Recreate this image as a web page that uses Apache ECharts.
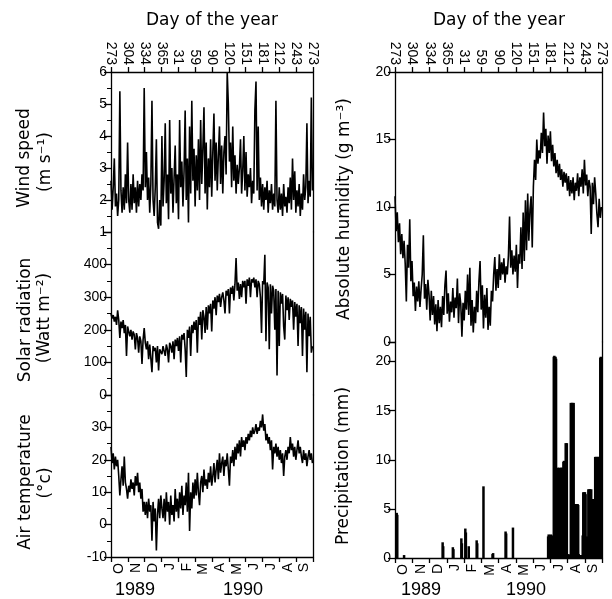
<!DOCTYPE html>
<html>
<head>
<meta charset="utf-8">
<script src="https://cdn.jsdelivr.net/npm/echarts@6/dist/echarts.min.js"></script>
<style>html,body{margin:0;padding:0;background:#fff;}#chart{width:612px;height:599px;}</style>
</head>
<body>
<div id="chart"></div>
<script>
// ---- data (sampled every 2 days starting 1 Oct 1989 = day 0) ----
const SAMPLE_STEP = 2;
const dayTickLabels = ['273','304','334','365','31','59','90','120','151','181','212','243','273'];
const monthLabels = ['O','N','D','J','F','M','A','M','J','J','A','S'];

const windSpeed = [
 2.6,1.7,2.4,3.3,1.8,2.2,1.5,2.0,5.4,2.3,1.6,2.4,1.7,2.8,1.9,3.8,
 2.0,1.6,2.5,1.7,2.8,1.9,2.4,1.6,2.6,1.8,2.5,2.0,2.8,2.3,5.5,
 2.4,3.5,2.0,2.7,1.6,2.5,5.1,2.0,1.5,2.4,3.9,1.3,1.1,2.0,1.2,
 4.0,1.8,2.6,4.4,1.9,2.8,1.4,4.5,2.2,3.0,1.6,2.7,3.7,1.9,2.8,
 1.4,4.5,2.4,3.2,1.8,2.9,4.8,2.0,3.3,1.3,4.3,2.2,5.1,2.6,3.6,
 1.8,3.4,2.3,3.9,2.0,4.5,2.5,3.6,4.9,2.2,3.8,1.7,3.3,2.4,3.9,
 2.1,3.5,4.7,2.6,3.8,2.3,3.4,4.3,2.5,3.7,2.2,3.5,4.0,2.8,6.0,
 5.0,3.2,3.8,2.4,4.3,2.6,3.4,2.2,3.1,2.5,3.0,3.9,2.2,2.9,4.0,
 2.3,3.5,2.1,2.8,2.4,3.0,1.9,2.6,2.2,4.8,5.7,2.3,4.3,2.0,2.7,
 1.8,2.5,1.7,2.4,2.0,2.6,1.6,2.3,1.9,2.5,1.7,2.2,1.8,5.1,2.0,
 1.6,2.4,1.7,2.2,1.5,2.5,1.8,2.1,1.6,2.4,1.9,2.7,1.7,3.3,2.0,
 2.9,1.6,2.3,1.8,2.5,1.5,2.2,1.7,2.8,2.0,2.4,4.4,1.9,2.6,2.1,5.2,2.3
];

const solarRadiation = [
 250,235,245,225,240,215,260,230,175,225,205,230,190,215,120,210,
 205,180,200,170,195,185,140,190,175,130,180,165,95,170,205,
 160,140,165,110,155,150,70,150,135,145,100,150,75,140,145,
 125,150,145,120,155,140,100,160,150,130,165,110,170,150,175,
 135,180,100,185,170,190,140,55,200,175,210,120,215,190,225,
 200,230,130,240,215,255,170,260,240,190,270,200,275,250,280,
 195,290,265,300,245,305,285,310,270,300,315,290,250,320,305,
 325,250,330,310,335,290,340,420,320,345,295,340,300,350,330,
 350,280,355,335,360,300,355,345,360,330,355,300,350,340,300,
 190,350,340,430,165,345,330,140,340,250,335,320,200,325,60,
 320,150,315,280,310,210,170,305,260,300,230,295,270,290,200,
 285,240,280,150,275,220,270,120,265,200,255,70,250,180,240,130,150
];

const airTemperature = [
 24,19,22,17,21,18,20,15,9,14,18,12,21,13,11,8,
 12,10,14,11,13,9,15,12,16,10,13,8,11,4,7,
 3,7,2,8,4,6,-5,7,1,5,-8,3,8,2,9,
 5,2,8,1,10,4,7,0,9,3,6,1,11,4,8,
 2,10,5,12,3,9,6,13,4,16,-2,10,5,13,8,
 14,9,16,10,6,13,15,10,17,12,14,11,16,13,18,
 12,15,19,13,17,20,14,22,16,19,21,15,20,18,22,
 17,12,21,19,23,18,24,20,25,22,26,21,27,24,26,
 23,27,25,28,26,29,27,30,28,29,31,28,30,29,32,
 30,34,29,31,26,28,25,27,23,26,17,24,22,25,21,
 24,20,23,19,22,15,21,23,20,24,22,27,23,25,21,
 24,20,23,26,22,24,21,19,23,20,22,18,21,23,20,22,19
];

const absoluteHumidity = [
 10.8,8.2,9.6,7.4,8.8,6.5,8.0,6.2,7.5,5.8,3.0,7.2,5.5,9.1,4.5,6.0,
 3.4,4.4,2.3,4.1,3.0,4.5,2.6,3.9,5.0,7.9,3.2,4.3,2.4,4.6,3.5,
 1.6,3.8,2.0,3.4,1.3,2.8,0.8,3.1,1.4,2.6,1.1,3.4,2.0,4.2,5.3,
 2.1,3.6,1.5,3.0,2.2,4.0,1.8,3.3,2.5,4.7,1.4,3.6,2.8,0.4,2.9,
 1.6,3.8,2.4,5.0,2.0,5.5,1.2,3.1,0.7,2.6,1.4,3.8,2.2,4.5,6.0,
 2.4,4.2,1.0,3.5,1.8,4.0,0.9,2.6,1.2,3.8,3.0,5.0,6.3,3.8,5.4,
 4.0,6.5,4.6,5.9,5.0,6.2,4.4,5.6,5.0,6.4,9.3,5.5,6.8,5.0,6.4,
 5.2,7.2,4.0,6.5,5.8,8.5,5.4,9.6,6.0,10.5,6.8,11.0,7.5,9.8,10.8,
 7.0,11.5,13.5,12.0,15.0,13.2,14.2,13.6,15.5,14.0,17.0,14.5,15.8,13.2,15.3,
 14.0,15.6,13.4,14.6,13.0,14.0,12.5,13.5,12.2,13.2,12.0,12.8,11.5,12.6,11.8,
 12.5,11.2,12.3,10.8,12.0,11.0,12.2,10.5,11.8,11.2,12.5,10.8,12.2,11.5,12.8,
 11.0,13.5,11.6,12.4,10.8,12.0,11.5,8.0,11.8,10.2,12.2,11.0,9.5,8.5,10.6,9.2,10.0
];

// precipitation events: [day since 1 Oct 1989, mm]
const precipitation = [
 [3,4.6],[4,4.4],[16,0.3],[84,1.6],[85,1.2],[102,1.1],[103,0.9],[117,2.0],[118,1.5],
 [124,3.0],[125,2.6],[130,1.2],[144,1.8],[145,1.5],[156,7.3],[172,0.4],[173,0.5],
 [195,2.7],[196,2.5],[208,3.1],
 [270,2.2],[271,2.4],[272,2.3],[273,0.2],[274,2.1],[275,2.4],[276,2.2],[277,0.3],[278,2.3],[279,2.2],
 [280,20.5],[281,20.6],[282,20.4],[283,20.5],[284,20.3],
 [285,9.1],[286,9.0],[287,9.2],[288,9.1],[289,9.0],[290,9.2],[291,9.1],[292,9.0],[293,9.2],[294,9.1],[295,9.2],[296,9.1],
 [297,9.8],[298,9.9],[299,9.8],[300,9.7],[301,11.7],[302,11.6],[303,11.7],
 [304,0.3],[305,0.2],[306,0.4],[307,0.3],[308,0.2],
 [310,15.8],[311,15.7],[312,15.8],[313,15.8],[314,15.6],[315,15.8],
 [316,5.5],[317,5.4],[318,5.5],[319,5.3],[320,5.5],[321,5.4],[322,5.5],[323,5.4],
 [324,0.4],[326,0.3],[327,0.2],[328,0.3],[330,0.3],
 [331,2.3],[332,6.7],[333,6.6],[334,6.7],[335,6.7],[336,6.5],
 [337,2.1],[338,2.2],[339,2.0],[340,2.1],
 [341,7.0],[342,6.9],[343,7.0],[344,7.0],[345,6.9],[346,7.0],
 [347,6.0],[348,5.9],[349,6.0],[350,6.0],[351,5.8],[352,6.0],
 [353,10.3],[354,10.2],[355,10.3],[356,10.3],[357,10.2],[358,10.3],[359,10.2],[360,10.3],[361,10.3],
 [362,20.4],[363,20.5],[364,20.4]
];

// ---- chart ----
const INK = '#000';
const TICK_FONT = 'Liberation Sans';
const TITLE_FONT = '17px "DejaVu Sans"';

function pairs(arr) { return arr.map((v, i) => [i * SAMPLE_STEP, v]); }

function valueX(g) { return { type: 'value', gridIndex: g, min: 0, max: 365, show: false }; }

function dayAxis(g) {
  return {
    type: 'category', gridIndex: g, position: 'top', data: dayTickLabels, boundaryGap: false,
    axisLine: { show: true, onZero: false, lineStyle: { color: INK, width: 1.3 } },
    axisTick: { show: true, length: 5, interval: 0, lineStyle: { color: INK, width: 1.3 } },
    axisLabel: { interval: 0, rotate: 90, margin: 7, fontSize: 14, fontFamily: TICK_FONT, color: INK },
    splitLine: { show: false }
  };
}

function monthAxis(g) {
  return {
    type: 'category', gridIndex: g, position: 'bottom', data: monthLabels, boundaryGap: true,
    axisLine: { show: true, onZero: false, lineStyle: { color: INK, width: 1.3 } },
    axisTick: { show: true, length: 5, interval: 0, lineStyle: { color: INK, width: 1.3 } },
    axisLabel: { interval: 0, rotate: 90, margin: 6, fontSize: 14, fontFamily: TICK_FONT, color: INK },
    splitLine: { show: false }
  };
}

function leftY(g, min, max, interval, minorSplit, hideAbove) {
  return {
    type: 'value', gridIndex: g, position: 'left', min: min, max: max, interval: interval,
    axisLine: { show: true, onZero: false, lineStyle: { color: INK, width: 1.3 } },
    axisTick: { show: true, length: 7, lineStyle: { color: INK, width: 1.3 } },
    minorTick: { show: !!minorSplit, splitNumber: minorSplit || 2, length: 4, lineStyle: { color: INK, width: 1 } },
    axisLabel: {
      margin: 4, fontSize: 14, fontFamily: TICK_FONT, color: INK, showMinLabel: true, showMaxLabel: true,
      formatter: function (v) { return v > hideAbove ? '' : String(v); }
    },
    splitLine: { show: false }
  };
}

function rightY(g, min, max) {
  return {
    type: 'value', gridIndex: g, position: 'right', min: min, max: max,
    axisLine: { show: true, onZero: false, lineStyle: { color: INK, width: 1.3 } },
    axisTick: { show: false }, axisLabel: { show: false }, splitLine: { show: false }
  };
}

function lineSeries(xi, yi, arr) {
  return {
    type: 'line', xAxisIndex: xi, yAxisIndex: yi, data: pairs(arr), symbol: 'none',
    lineStyle: { color: INK, width: 1.6 }, silent: true
  };
}

function txt(x, y, text, font, rot) {
  return {
    type: 'text', x: x, y: y, rotation: rot || 0, silent: true,
    style: { text: text, font: font, fill: INK, align: 'center', verticalAlign: 'middle',
             textAlign: 'center', textVerticalAlign: 'middle' }
  };
}

const R = Math.PI / 2;
const option = {
  animation: false,
  backgroundColor: '#fff',
  grid: [
    { left: 111, top: 72, width: 202, height: 160 },   // wind
    { left: 111, top: 232, width: 202, height: 163 },  // solar
    { left: 111, top: 395, width: 202, height: 162 },  // temperature
    { left: 395, top: 72, width: 207, height: 270 },   // humidity
    { left: 395, top: 342, width: 207, height: 216 }   // precipitation
  ],
  xAxis: [valueX(0), dayAxis(0), valueX(1), valueX(2), monthAxis(2), valueX(3), dayAxis(3), valueX(4), monthAxis(4)],
  yAxis: [
    leftY(0, 1, 6, 1, 2, 6), rightY(0, 1, 6),
    leftY(1, 0, 500, 100, 2, 400), rightY(1, 0, 500),
    leftY(2, -10, 40, 10, 2, 30), rightY(2, -10, 40),
    leftY(3, 0, 20, 5, 0, 20), rightY(3, 0, 20),
    leftY(4, 0, 22, 5, 0, 20), rightY(4, 0, 22)
  ],
  series: [
    lineSeries(0, 0, windSpeed),
    lineSeries(2, 2, solarRadiation),
    lineSeries(3, 4, airTemperature),
    lineSeries(5, 6, absoluteHumidity),
    { type: 'bar', xAxisIndex: 7, yAxisIndex: 8, data: precipitation, barWidth: 2.5,
      itemStyle: { color: INK }, silent: true }
  ],
  graphic: [
    txt(212, 21, 'Day of the year', TITLE_FONT),
    txt(499, 21, 'Day of the year', TITLE_FONT),
    txt(25, 158, 'Wind speed', TITLE_FONT, R),
    txt(46, 162, '(m s\u207B\u00B9)', TITLE_FONT, R),
    txt(26, 320, 'Solar radiation', TITLE_FONT, R),
    txt(45, 318, '(Watt m\u207B\u00B2)', TITLE_FONT, R),
    txt(26, 482, 'Air temperature', TITLE_FONT, R),
    txt(46, 483, '(\u00B0c)', TITLE_FONT, R),
    txt(345, 209, 'Absolute humidity (g m\u207B\u00B3)', TITLE_FONT, R),
    txt(344, 466, 'Precipitation (mm)', TITLE_FONT, R),
    txt(135, 590, '1989', '18px "Liberation Sans"'),
    txt(243, 590, '1990', '18px "Liberation Sans"'),
    txt(421, 590, '1989', '18px "Liberation Sans"'),
    txt(526, 590, '1990', '18px "Liberation Sans"')
  ]
};

const chart = echarts.init(document.getElementById('chart'), null, { renderer: 'canvas' });
chart.setOption(option);
</script>
</body>
</html>
